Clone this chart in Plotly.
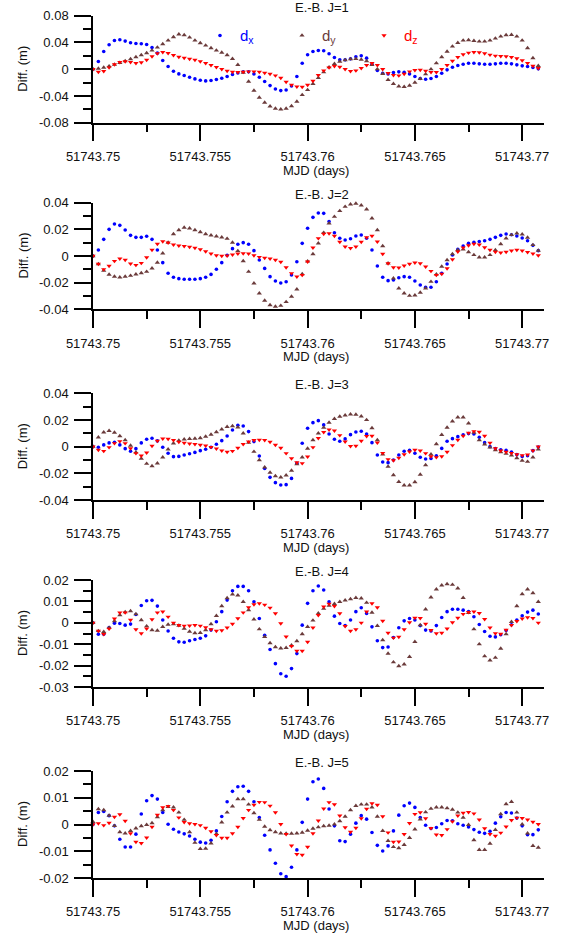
import plotly.graph_objects as go

W, H = 569, 936

# sampling grid (MJD, days)
t_start = 51743.75
t_step = 0.00025
n_samples = 84
mjd = [round(t_start + t_step * i, 6) for i in range(n_samples)]

# ---------------- J=1 ----------------
dx_j1 = [0, 0.0115, 0.0265, 0.0365, 0.043, 0.044, 0.042, 0.0395, 0.0385, 0.038, 0.037, 0.0325,
         0.024, 0.013, 0.004, -0.003, -0.007, -0.0095, -0.012, -0.0145, -0.0165, -0.0175, -0.017, -0.0155,
         -0.0135, -0.011, -0.008, -0.0055, -0.004, -0.004, -0.007, -0.012, -0.0185, -0.0245, -0.0295, -0.032,
         -0.031, -0.025, -0.011, 0.009, 0.0215, 0.0265, 0.028, 0.0275, 0.023, 0.0175, 0.014, 0.014,
         0.0155, 0.0185, 0.02, 0.0165, 0.0075, -0.002, -0.006, -0.007, -0.005, -0.004, -0.0045, -0.007,
         -0.011, -0.014, -0.015, -0.014, -0.011, -0.006, -0.001, 0.003, 0.0055, 0.0075, 0.009, 0.009,
         0.008, 0.0075, 0.0075, 0.008, 0.009, 0.009, 0.008, 0.0065, 0.005, 0.004, 0.0025, 0.0005]
dy_j1 = [0, 0.001, 0.0025, 0.0045, 0.007, 0.0095, 0.012, 0.015, 0.018, 0.021, 0.024, 0.028,
         0.0325, 0.0375, 0.043, 0.048, 0.052, 0.051, 0.0475, 0.043, 0.039, 0.0355, 0.0315, 0.028,
         0.025, 0.021, 0.0155, 0.0065, -0.005, -0.0185, -0.032, -0.0425, -0.05, -0.0555, -0.059, -0.06,
         -0.059, -0.055, -0.0485, -0.0385, -0.031, -0.022, -0.013, -0.0045, 0.003, 0.008, 0.0115, 0.0135,
         0.015, 0.0155, 0.0145, 0.012, 0.0065, 0, -0.007, -0.016, -0.022, -0.0255, -0.0265, -0.0245,
         -0.02, -0.0145, -0.0075, 0, 0.009, 0.018, 0.0265, 0.034, 0.0395, 0.043, 0.0435, 0.0425,
         0.0415, 0.0415, 0.043, 0.046, 0.049, 0.051, 0.0515, 0.049, 0.043, 0.0315, 0.0165, 0.005]
dz_j1 = [0, -0.004, -0.003, 0.0025, 0.007, 0.0105, 0.0115, 0.0105, 0.009, 0.01, 0.014, 0.019,
         0.0235, 0.0255, 0.024, 0.021, 0.0185, 0.017, 0.0155, 0.014, 0.0115, 0.009, 0.006, 0.003,
         0, -0.0025, -0.004, -0.0045, -0.004, -0.0035, -0.0035, -0.004, -0.0055, -0.007, -0.0095, -0.013,
         -0.019, -0.0235, -0.026, -0.0265, -0.0235, -0.0175, -0.009, -0.002, 0.0025, 0.0045, 0.0035, 0,
         -0.003, -0.002, 0.0015, 0.006, 0.009, 0.006, 0, -0.006, -0.009, -0.0095, -0.007, -0.0035,
         -0.0015, -0.001, -0.0025, -0.0045, -0.0045, 0, 0.006, 0.0125, 0.018, 0.022, 0.0245, 0.0255,
         0.025, 0.0235, 0.0215, 0.02, 0.0195, 0.019, 0.018, 0.016, 0.013, 0.009, 0.005, 0.0015]

# ---------------- J=2 ----------------
dx_j2 = [0, 0.0045, 0.0125, 0.02, 0.024, 0.023, 0.0195, 0.0155, 0.014, 0.014, 0.0148, 0.0125,
         0.0045, -0.005, -0.013, -0.016, -0.017, -0.0175, -0.0175, -0.0175, -0.017, -0.016, -0.0138, -0.01,
         -0.005, 0.0005, 0.0055, 0.0088, 0.01, 0.0088, 0.004, -0.003, -0.0093, -0.0155, -0.0188, -0.0203,
         -0.0193, -0.0143, -0.0043, 0.0095, 0.0208, 0.029, 0.0323, 0.032, 0.0258, 0.0175, 0.0133, 0.012,
         0.013, 0.015, 0.0158, 0.0133, 0.0045, -0.0075, -0.016, -0.0185, -0.018, -0.0163, -0.0155, -0.016,
         -0.0188, -0.0218, -0.0235, -0.0235, -0.0193, -0.013, -0.006, 0.0008, 0.005, 0.0075, 0.0095, 0.0103,
         0.0108, 0.0115, 0.0125, 0.014, 0.0155, 0.0165, 0.016, 0.015, 0.0135, 0.0115, 0.008, 0.004]
dy_j2 = [0, -0.006, -0.011, -0.014, -0.0155, -0.016, -0.0155, -0.0148, -0.0138, -0.0128, -0.0118, -0.0093,
         -0.005, 0.002, 0.01, 0.0165, 0.0195, 0.0213, 0.0208, 0.0195, 0.018, 0.0165, 0.0155, 0.0148,
         0.014, 0.013, 0.01, 0.0038, -0.0038, -0.0118, -0.0205, -0.028, -0.0335, -0.0368, -0.038, -0.0373,
         -0.0345, -0.0305, -0.025, -0.0135, -0.004, 0.0015, 0.0095, 0.0175, 0.0245, 0.0295, 0.0338, 0.037,
         0.0388, 0.0393, 0.038, 0.035, 0.0283, 0.0195, 0.0075, -0.0055, -0.0168, -0.0243, -0.028, -0.0298,
         -0.0295, -0.0275, -0.0243, -0.0193, -0.0138, -0.008, -0.003, 0.0015, 0.0045, 0.005, 0.003, 0.0008,
         -0.001, -0.001, 0.0008, 0.0045, 0.009, 0.0133, 0.0158, 0.017, 0.0163, 0.0138, 0.0083, 0.004]
dz_j2 = [0, -0.006, -0.01, -0.0075, -0.0038, -0.002, -0.003, -0.0058, -0.0068, -0.0053, -0.001, 0.0045,
         0.009, 0.011, 0.01, 0.0085, 0.0078, 0.0073, 0.0068, 0.006, 0.005, 0.0035, 0.0018, 0.0005,
         0, 0.0003, 0.001, 0.0018, 0.002, 0.0018, 0.0005, -0.0008, -0.0015, -0.002, -0.003, -0.0045,
         -0.0085, -0.013, -0.0155, -0.0143, -0.0043, 0.0063, 0.0133, 0.0165, 0.017, 0.015, 0.0105, 0.007,
         0.0058, 0.007, 0.0105, 0.014, 0.015, 0.0108, 0.0015, -0.0055, -0.0085, -0.0088, -0.0073, -0.006,
         -0.005, -0.0055, -0.008, -0.0113, -0.0143, -0.0135, -0.0093, -0.0025, 0.0033, 0.0063, 0.008, 0.009,
         0.0085, 0.0065, 0.0045, 0.003, 0.0025, 0.003, 0.004, 0.0045, 0.004, 0.0028, 0.0018, 0.0005]

# ---------------- J=3 ----------------
dx_j3 = [0, -0.0005, 0.0013, 0.0028, 0.0033, 0.0013, -0.0015, -0.0035, -0.0015, 0.0028, 0.0055, 0.0063,
         0.0043, -0.0005, -0.005, -0.0075, -0.0073, -0.0063, -0.0053, -0.0043, -0.003, -0.002, -0.0005, 0.0018,
         0.0045, 0.008, 0.0125, 0.016, 0.0155, 0.0113, 0.0038, -0.007, -0.0163, -0.023, -0.027, -0.0288,
         -0.0285, -0.0238, -0.0125, 0.0025, 0.0138, 0.018, 0.0195, 0.0163, 0.0095, 0.0055, 0.004, 0.0058,
         0.009, 0.011, 0.0115, 0.0095, 0.003, -0.0063, -0.0115, -0.012, -0.01, -0.0063, -0.0035, -0.0028,
         -0.005, -0.008, -0.0093, -0.0088, -0.0068, -0.0013, 0.004, 0.006, 0.0075, 0.0088, 0.0098, 0.0095,
         0.007, 0.003, 0, -0.0015, -0.0023, -0.0028, -0.004, -0.006, -0.0073, -0.0068, -0.003, -0.0003]
dy_j3 = [0, 0.007, 0.0108, 0.0118, 0.0105, 0.008, 0.005, 0.0008, -0.0043, -0.009, -0.0128, -0.0145,
         -0.0125, -0.008, -0.002, 0.0025, 0.0045, 0.0055, 0.0058, 0.006, 0.0065, 0.0075, 0.009, 0.011,
         0.013, 0.0148, 0.0155, 0.0145, 0.01, 0.003, -0.0038, -0.01, -0.0155, -0.0195, -0.022, -0.023,
         -0.0215, -0.018, -0.013, -0.008, -0.0015, 0.005, 0.01, 0.0143, 0.018, 0.0208, 0.0225, 0.0235,
         0.0243, 0.024, 0.0228, 0.02, 0.014, 0.005, -0.0058, -0.015, -0.0213, -0.0263, -0.029, -0.029,
         -0.0265, -0.021, -0.0138, -0.0058, 0.002, 0.0088, 0.0143, 0.019, 0.022, 0.022, 0.0175, 0.0105,
         0.005, 0.0018, -0.0005, -0.0025, -0.004, -0.0053, -0.0065, -0.0085, -0.0105, -0.0113, -0.008, -0.002]
dz_j3 = [0, -0.0025, -0.0033, -0.0005, 0.0025, 0.004, 0.0025, -0.0013, -0.005, -0.0068, -0.0045, 0.0005,
         0.0043, 0.006, 0.0058, 0.0048, 0.0035, 0.0028, 0.0023, 0.0018, 0.0013, 0.0008, -0.0003, -0.0015,
         -0.003, -0.004, -0.0033, -0.001, 0.0018, 0.0038, 0.0048, 0.005, 0.0048, 0.0035, 0.0013, -0.001,
         -0.005, -0.0088, -0.0118, -0.0125, -0.0075, -0.0005, 0.0063, 0.0108, 0.0128, 0.012, 0.0085, 0.0038,
         0.0003, 0.0005, 0.0043, 0.0078, 0.008, 0.003, -0.0048, -0.0095, -0.0103, -0.0085, -0.0058, -0.0038,
         -0.0025, -0.003, -0.005, -0.0073, -0.008, -0.0073, -0.004, 0.001, 0.005, 0.008, 0.0103, 0.0115,
         0.011, 0.008, 0.0028, -0.0013, -0.003, -0.004, -0.0048, -0.0058, -0.0065, -0.006, -0.003, 0]

# ---------------- J=4 ----------------
dx_j4 = [0, -0.0053, -0.0053, -0.0022, -0.0002, -0.0003, -0.0011, -0.0006, 0.0039, 0.0081, 0.0103, 0.0105,
         0.0078, 0.0013, -0.0038, -0.0072, -0.0089, -0.0091, -0.0084, -0.0078, -0.0072, -0.0061, -0.0034, 0.0005,
         0.0052, 0.0106, 0.015, 0.017, 0.017, 0.015, 0.0098, 0.002, -0.0058, -0.0125, -0.0191, -0.0238,
         -0.025, -0.0214, -0.0144, -0.0011, 0.0091, 0.015, 0.0172, 0.0153, 0.0098, 0.0031, -0.0003, -0.0013,
         0.0013, 0.0052, 0.007, 0.0044, -0.0019, -0.0084, -0.0116, -0.0113, -0.0069, -0.0023, 0.0009, 0.002,
         0.0013, -0.0013, -0.0034, -0.0038, -0.0013, 0.0025, 0.0052, 0.0063, 0.0063, 0.0059, 0.0052, 0.0028,
         -0.0008, -0.0041, -0.0063, -0.0066, -0.0056, -0.0036, -0.0009, 0.0013, 0.0033, 0.005, 0.0059, 0.0041]
dy_j4 = [0, -0.0038, -0.0042, -0.0023, 0.0008, 0.0036, 0.005, 0.0055, 0.0041, 0.0013, -0.0016, -0.0034,
         -0.0036, -0.0019, -0.0008, -0.0006, -0.0013, -0.0027, -0.0041, -0.0048, -0.0047, -0.0034, -0.0006, 0.0033,
         0.0078, 0.0116, 0.0133, 0.0128, 0.0098, 0.0059, 0.0016, -0.003, -0.0066, -0.0095, -0.0113, -0.0119,
         -0.0117, -0.0105, -0.0085, -0.0053, -0.0019, 0.0011, 0.0044, 0.0066, 0.008, 0.0089, 0.0098, 0.0105,
         0.0111, 0.0117, 0.0114, 0.0094, 0.0048, -0.0014, -0.0081, -0.0144, -0.0184, -0.0202, -0.0194, -0.0159,
         -0.0089, -0.0011, 0.0063, 0.0119, 0.0156, 0.0175, 0.0181, 0.0178, 0.0161, 0.0117, 0.0047, -0.003,
         -0.01, -0.0156, -0.0175, -0.0163, -0.012, -0.0053, 0.0005, 0.0078, 0.0134, 0.0156, 0.0139, 0.0098]
dz_j4 = [0, -0.0038, -0.0053, -0.0028, 0.0019, 0.0047, 0.0048, 0.0013, -0.0031, -0.005, -0.0027, 0.0016,
         0.0048, 0.0052, 0.0028, 0, -0.0011, -0.0014, -0.0013, -0.0011, -0.0014, -0.0022, -0.0031, -0.0038,
         -0.0036, -0.0023, -0.0005, 0.002, 0.0048, 0.0072, 0.0086, 0.0091, 0.0084, 0.007, 0.0044, -0.0003,
         -0.0065, -0.0109, -0.0131, -0.0131, -0.0089, -0.0023, 0.0036, 0.0075, 0.0088, 0.0078, 0.0044, -0.0016,
         -0.0038, -0.0031, 0, 0.0052, 0.0091, 0.0072, 0.0009, -0.0047, -0.007, -0.0066, -0.0031, 0.0002,
         0.0023, 0.0022, -0.0005, -0.0034, -0.005, -0.0047, -0.0027, 0.0002, 0.0023, 0.0041, 0.005, 0.0052,
         0.0045, 0.0017, -0.0023, -0.005, -0.0052, -0.0033, -0.0011, 0.0008, 0.0019, 0.0025, 0.0022, 0]

# ---------------- J=5 ----------------
dx_j5 = [0, 0.0045, 0.0049, 0.0033, -0.0005, -0.0055, -0.0084, -0.0084, -0.0036, 0.0039, 0.0089, 0.0108,
         0.0095, 0.0045, 0.0001, -0.0018, -0.0028, -0.0035, -0.0043, -0.0055, -0.0066, -0.0069, -0.0059, -0.0024,
         0.003, 0.0085, 0.0124, 0.0141, 0.0143, 0.0124, 0.0085, 0.0026, -0.004, -0.0095, -0.0145, -0.0184,
         -0.0195, -0.016, -0.0095, 0.0008, 0.0095, 0.016, 0.017, 0.0135, 0.0058, -0.0005, -0.0061, -0.0064,
         -0.0036, 0.0005, 0.0033, 0.002, -0.003, -0.0078, -0.0099, -0.008, -0.0024, 0.0035, 0.007, 0.008,
         0.0064, 0.0026, -0.0003, -0.0015, -0.0011, 0.0003, 0.0015, 0.0014, 0.0003, -0.0003, -0.0009, -0.0019,
         -0.0029, -0.0033, -0.0025, 0.0005, 0.0029, 0.0045, 0.0043, 0.0024, -0.0005, -0.0038, -0.0038, -0.002]
dy_j5 = [0.001, 0.0058, 0.0054, 0.0033, -0.0005, -0.0028, -0.0033, -0.0024, -0.0014, -0.0006, -0.0001, 0.0005,
         0.0028, 0.0054, 0.0066, 0.0064, 0.0045, 0.0018, -0.0028, -0.0068, -0.0091, -0.009, -0.007, -0.0035,
         0.0008, 0.0045, 0.0068, 0.0095, 0.0095, 0.0075, 0.0043, 0.0018, -0.0008, -0.0021, -0.0028, -0.0033,
         -0.0034, -0.0034, -0.0033, -0.003, -0.0023, -0.0015, -0.001, -0.0006, -0.0004, 0.0001, 0.0013, 0.003,
         0.0054, 0.007, 0.0075, 0.0075, 0.0064, 0.003, -0.0024, -0.0061, -0.0084, -0.0088, -0.0076, -0.005,
         -0.0018, 0.0019, 0.0046, 0.0059, 0.0064, 0.0064, 0.0061, 0.0056, 0.0045, 0.0026, -0.0001, -0.0058,
         -0.0095, -0.0095, -0.0071, -0.002, 0.0039, 0.0076, 0.0085, 0.0045, 0.0001, -0.0033, -0.008, -0.0086]
dz_j5 = [0, 0.0004, -0.0003, 0.0006, 0.0028, 0.0038, 0.0013, -0.0033, -0.0065, -0.007, -0.0049, -0.0009,
         0.0036, 0.0064, 0.0069, 0.0054, 0.0026, 0.0009, 0.0004, 0.0001, -0.0003, -0.0013, -0.0026, -0.004,
         -0.005, -0.005, -0.0033, -0.0009, 0.0024, 0.0054, 0.0073, 0.0084, 0.0083, 0.007, 0.0045, 0.0001,
         -0.0036, -0.0079, -0.0111, -0.0114, -0.0084, -0.0033, 0.0014, 0.0059, 0.0083, 0.0075, 0.0033, -0.0011,
         -0.0028, -0.0013, 0.0023, 0.0058, 0.0079, 0.0073, 0.003, -0.003, -0.0065, -0.0064, -0.0036, 0.0005,
         0.0039, 0.0045, 0.0023, -0.0014, -0.0038, -0.004, -0.0018, 0.0011, 0.0033, 0.0043, 0.0046, 0.0041,
         0.0018, -0.0015, -0.0036, -0.0043, -0.0031, -0.0008, 0.0016, 0.0025, 0.0024, 0.0018, 0.001, 0.0001]

panel_titles = ["E.-B. J=1", "E.-B. J=2", "E.-B. J=3", "E.-B. J=4", "E.-B. J=5"]

x_tick_vals = [51743.75, 51743.755, 51743.76, 51743.765, 51743.77]
x_tick_text = ["51743.75", "51743.755", "51743.76", "51743.765", "51743.77"]

y_tick_vals_j1 = [0.08, 0.04, 0, -0.04, -0.08]
y_tick_text_j1 = ["0.08", "0.04", "0", "-0.04", "-0.08"]
y_tick_vals_j23 = [0.04, 0.02, 0, -0.02, -0.04]
y_tick_text_j23 = ["0.04", "0.02", "0", "-0.02", "-0.04"]
y_tick_vals_j4 = [0.02, 0.01, 0, -0.01, -0.02, -0.03]
y_tick_text_j4 = ["0.02", "0.01", "0", "-0.01", "-0.02", "-0.03"]
y_tick_vals_j5 = [0.02, 0.01, 0, -0.01, -0.02]
y_tick_text_j5 = ["0.02", "0.01", "0", "-0.01", "-0.02"]

series_names = ['<span style="color:#0000ff">d<sub>x</sub></span>',
                '<span style="color:#6b3b3b">d<sub>y</sub></span>',
                '<span style="color:#ff0000">d<sub>z</sub></span>']
series_colors = ["#0000ff", "#6b3b3b", "#ff0000"]
series_symbols = ["circle", "triangle-up", "triangle-down"]
series_sizes = [3.6, 4.6, 4.6]

# layout (pixel geometry)
X_LEFT, X_RIGHT = 93.0, 544.3
PX_PER_DAY = 107.3 / 0.005
panel_px = [(15.7, 122.7), (202.7, 309.3), (393.3, 500.0), (580.0, 687.0), (771.0, 878.0)]
panels = [
    dict(data=(dx_j1, dy_j1, dz_j1), yr=[-0.08, 0.08], tv=y_tick_vals_j1, tt=y_tick_text_j1, minor=0.02),
    dict(data=(dx_j2, dy_j2, dz_j2), yr=[-0.04, 0.04], tv=y_tick_vals_j23, tt=y_tick_text_j23, minor=0.01),
    dict(data=(dx_j3, dy_j3, dz_j3), yr=[-0.04, 0.04], tv=y_tick_vals_j23, tt=y_tick_text_j23, minor=0.01),
    dict(data=(dx_j4, dy_j4, dz_j4), yr=[-0.03, 0.02], tv=y_tick_vals_j4, tt=y_tick_text_j4, minor=0.005),
    dict(data=(dx_j5, dy_j5, dz_j5), yr=[-0.02, 0.02], tv=y_tick_vals_j5, tt=y_tick_text_j5, minor=0.005),
]

FONT = "Liberation Sans, Arial, sans-serif"
TXT = "#111111"
x_end = t_start + (X_RIGHT - X_LEFT) / PX_PER_DAY

fig = go.Figure()
layout = dict(
    width=W, height=H, margin=dict(l=0, r=0, t=0, b=0, autoexpand=False),
    paper_bgcolor="white", plot_bgcolor="white",
    font=dict(family=FONT, size=13, color=TXT),
    showlegend=True,
    legend=dict(orientation="h", x=200 / W, y=1 - 35.7 / H, xanchor="left", yanchor="middle",
                entrywidth=37, entrywidthmode="pixels", font=dict(size=15, family=FONT),
                bgcolor="rgba(0,0,0,0)", itemsizing="trace", tracegroupgap=0),
)
annotations = []
for k, p in enumerate(panels):
    top, bot = panel_px[k]
    sfx = "" if k == 0 else str(k + 1)
    xa, ya = "x" + sfx, "y" + sfx
    for s in range(3):
        fig.add_trace(go.Scatter(
            x=mjd, y=p["data"][s], mode="markers", name=series_names[s],
            marker=dict(symbol=series_symbols[s], size=series_sizes[s], color=series_colors[s],
                        line=dict(width=0)),
            xaxis=xa, yaxis=ya, showlegend=(k == 0), cliponaxis=False, hoverinfo="skip"))
    axis_common = dict(showline=True, linecolor="black", linewidth=1.5, showgrid=False, zeroline=False,
                       ticks="outside", ticklen=17, tickwidth=1.5, tickcolor="black", automargin=False,
                       tickfont=dict(family=FONT, size=13, color=TXT))
    layout["xaxis" + sfx] = dict(
        axis_common, domain=[X_LEFT / W, X_RIGHT / W], range=[t_start, x_end], anchor=ya,
        tickmode="array", tickvals=x_tick_vals, ticktext=x_tick_text, ticklabelstandoff=4,
        minor=dict(dtick=0.0025, tick0=t_start, ticks="outside", ticklen=8, tickwidth=1.5, tickcolor="black",
                   showgrid=False))
    layout["yaxis" + sfx] = dict(
        axis_common, domain=[1 - bot / H, 1 - top / H], range=p["yr"], anchor=xa,
        tickmode="array", tickvals=p["tv"], ticktext=p["tt"], ticklabelstandoff=3,
        minor=dict(dtick=p["minor"], tick0=0, ticks="outside", ticklen=8, tickwidth=1.5, tickcolor="black",
                   showgrid=False))
    annotations.append(dict(text=panel_titles[k], xref="paper", yref="paper", x=322 / W, y=1 - (top - 8.5) / H,
                            showarrow=False, xanchor="center", yanchor="middle", font=dict(size=13, color=TXT)))
    annotations.append(dict(text="Diff. (m)", xref="paper", yref="paper", x=22.5 / W, y=1 - ((top + bot) / 2) / H,
                            showarrow=False, textangle=-90, xanchor="center", yanchor="middle",
                            font=dict(size=13, color=TXT)))
    annotations.append(dict(text="MJD (days)", xref="paper", yref="paper", x=316 / W, y=1 - (bot + 47.3) / H,
                            showarrow=False, xanchor="center", yanchor="middle", font=dict(size=13, color=TXT)))
layout["annotations"] = annotations
fig.update_layout(**layout)
fig.write_html("out.html")
